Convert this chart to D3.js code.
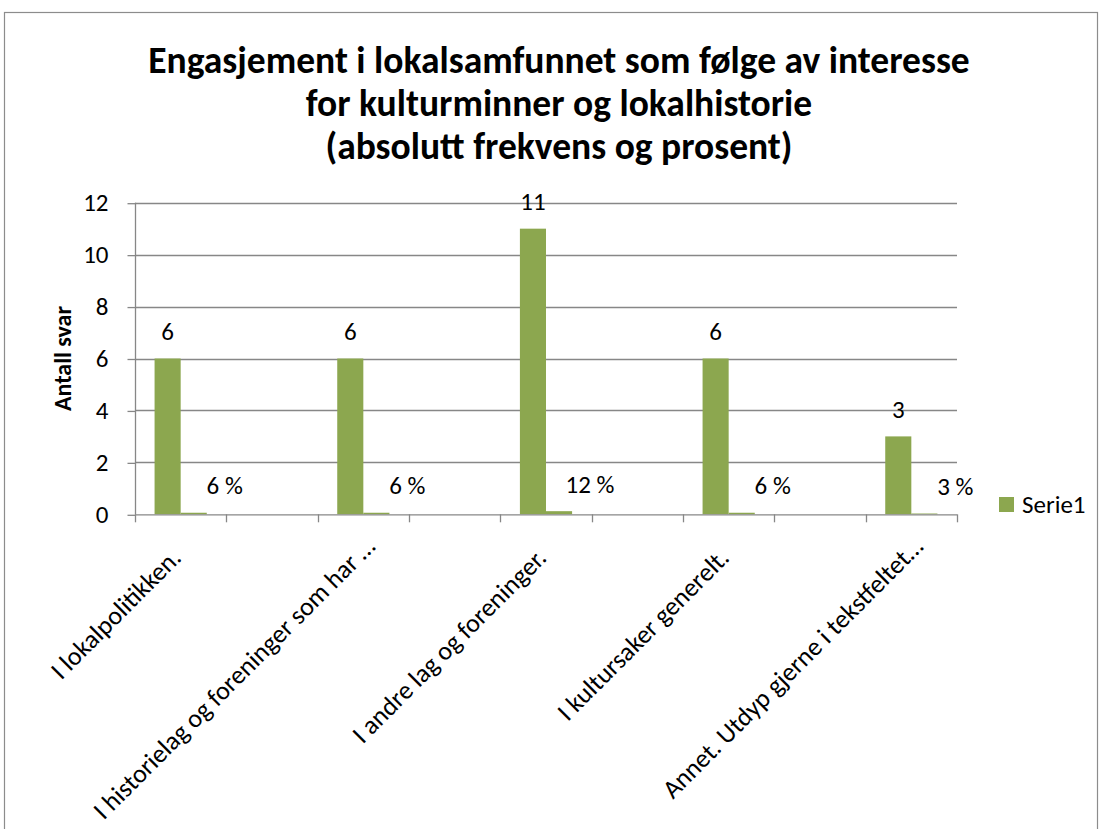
<!DOCTYPE html>
<html lang="no">
<head>
  <meta charset="UTF-8">
  <title>Engasjement i lokalsamfunnet</title>
  <script src="https://d3js.org/d3.v7.min.js"></script>
  <style>
    body { margin: 0; background: #fff; }
    text { font-family: Calibri, Carlito, Lato, sans-serif; fill: #000; }
  </style>
</head>
<body>
<div class="main"></div>
<script>
  // chart data
  const titleLines = ["Engasjement i lokalsamfunnet som følge av interesse",
                      "for kulturminner og lokalhistorie",
                      "(absolutt frekvens og prosent)"];
  const categories = ["I lokalpolitikken.", "", "I historielag og foreninger som har …", "",
                      "I andre lag og foreninger.", "", "I kultursaker generelt.", "",
                      "Annet. Utdyp gjerne i tekstfeltet…"];
  const counts = [6, null, 6, null, 11, null, 6, null, 3];
  const shares = [0.06, null, 0.06, null, 0.12, null, 0.06, null, 0.03];
  const yTicks = [0, 2, 4, 6, 8, 10, 12];
  const yTitle = "Antall svar";
  const legendLabel = "Serie1";

  const width = 1103, height = 829;
  const green = "#8ca74f", grid = "#878787";
  const plot = {left: 135, right: 957, top: 202.7, bottom: 514.3};

  let svg = d3.select(".main").append("svg")
          .attr("width", width).attr("height", height)
          .style("display", "block");

  // outer frame
  svg.append("rect").attr("x", 4.5).attr("y", 12.5).attr("width", 1093).attr("height", 830)
          .style("fill", "none").style("stroke", "#8c8c8c").style("stroke-width", 1.2);

  // title
  svg.append("g").selectAll("text").data(titleLines).join("text")
          .attr("x", 559).attr("y", (d, i) => 73 + i * 43)
          .attr("text-anchor", "middle")
          .style("font-size", "37.5px").style("font-weight", "bold")
          .text(d => d);

  let xScale = d3.scaleBand().domain(d3.range(categories.length))
          .range([plot.left, plot.right]).padding(0);
  let inner = d3.scaleBand().domain(["count", "share"])
          .range([0, xScale.bandwidth()]).paddingInner(0).paddingOuter(0.75);
  let yScale = d3.scaleLinear().domain([0, 12]).range([plot.bottom, plot.top]);

  // gridlines
  svg.append("g").selectAll("line").data(yTicks.filter(d => d > 0)).join("line")
          .attr("x1", plot.left).attr("x2", plot.right)
          .attr("y1", d => Math.round(yScale(d)) + 0.5).attr("y2", d => Math.round(yScale(d)) + 0.5)
          .style("stroke", grid).style("stroke-width", 1.3);

  // y axis
  let yAxis = d3.axisLeft(yScale).tickValues(yTicks).tickSize(8).tickPadding(19);
  let yG = svg.append("g").attr("transform", `translate(${plot.left + 0.5},0)`).call(yAxis);
  yG.select(".domain").attr("d", `M0,${plot.top}V${plot.bottom}`);
  yG.selectAll("line").style("stroke", grid).style("stroke-width", 1.3)
          .attr("transform", "translate(0,0.5)");
  yG.select(".domain").style("stroke", grid).style("stroke-width", 1.3);
  yG.selectAll("text").style("font-size", "25px").style("font-family", "Calibri, Carlito, Lato, sans-serif")
          .attr("fill", "#000");

  svg.append("text")
          .attr("transform", `translate(71,${(plot.top + plot.bottom) / 2}) rotate(-90)`)
          .attr("text-anchor", "middle")
          .style("font-size", "24px").style("font-weight", "bold")
          .text(yTitle);

  // bars
  let rows = categories.map((c, i) => ({i: i, count: counts[i], share: shares[i]}));
  let barG = svg.append("g");
  barG.selectAll("rect.count").data(rows.filter(d => d.count != null)).join("rect")
          .attr("class", "count")
          .attr("x", d => xScale(d.i) + inner("count"))
          .attr("width", inner.bandwidth())
          .attr("y", d => yScale(d.count))
          .attr("height", d => yScale(0) - yScale(d.count))
          .style("fill", green);
  barG.selectAll("rect.share").data(rows.filter(d => d.share != null)).join("rect")
          .attr("class", "share")
          .attr("x", d => xScale(d.i) + inner("share"))
          .attr("width", inner.bandwidth())
          .attr("y", d => yScale(d.share))
          .attr("height", d => yScale(0) - yScale(d.share))
          .style("fill", green);

  // value labels
  barG.selectAll("text.count").data(rows.filter(d => d.count != null)).join("text")
          .attr("class", "count")
          .attr("x", d => xScale(d.i) + inner("count") + inner.bandwidth() / 2)
          .attr("y", d => yScale(d.count) - 18.5)
          .attr("text-anchor", "middle")
          .style("font-size", "25px")
          .text(d => d.count);
  barG.selectAll("text.share").data(rows.filter(d => d.share != null)).join("text")
          .attr("class", "share")
          .attr("x", d => xScale(d.i) + inner("share") + inner.bandwidth() / 2 + 31)
          .attr("y", d => yScale(d.share) - 18.5)
          .attr("text-anchor", "middle")
          .style("font-size", "25px")
          .text(d => Math.round(d.share * 100) + " %");

  // x axis
  let xG = svg.append("g");
  xG.append("line").attr("x1", plot.left).attr("x2", plot.right)
          .attr("y1", plot.bottom + 0.5).attr("y2", plot.bottom + 0.5)
          .style("stroke", grid).style("stroke-width", 1.3);
  let edges = d3.range(categories.length + 1).map(i => plot.left + i * xScale.step());
  xG.selectAll("line.tick").data(edges).join("line").attr("class", "tick")
          .attr("x1", d => Math.round(d) + 0.5).attr("x2", d => Math.round(d) + 0.5)
          .attr("y1", plot.bottom).attr("y2", plot.bottom + 8)
          .style("stroke", grid).style("stroke-width", 1.3);
  // truncated labels keep some room after the ellipsis, as in the original
  xG.selectAll("text").data(rows.filter(d => categories[d.i] !== "")).join("text")
          .attr("transform", d => `translate(${xScale(d.i) + xScale.bandwidth() / 2 + 2},${plot.bottom + 45}) rotate(-45)`)
          .attr("x", d => categories[d.i].endsWith("…") ? 16 : 0)
          .attr("text-anchor", "end")
          .style("font-size", "26px")
          .text(d => categories[d.i]);

  // legend
  svg.append("rect").attr("x", 999).attr("y", 497).attr("width", 15).attr("height", 15).style("fill", green);
  svg.append("text").attr("x", 1022).attr("y", 513).style("font-size", "25px").text(legendLabel);
</script>
</body>
</html>
